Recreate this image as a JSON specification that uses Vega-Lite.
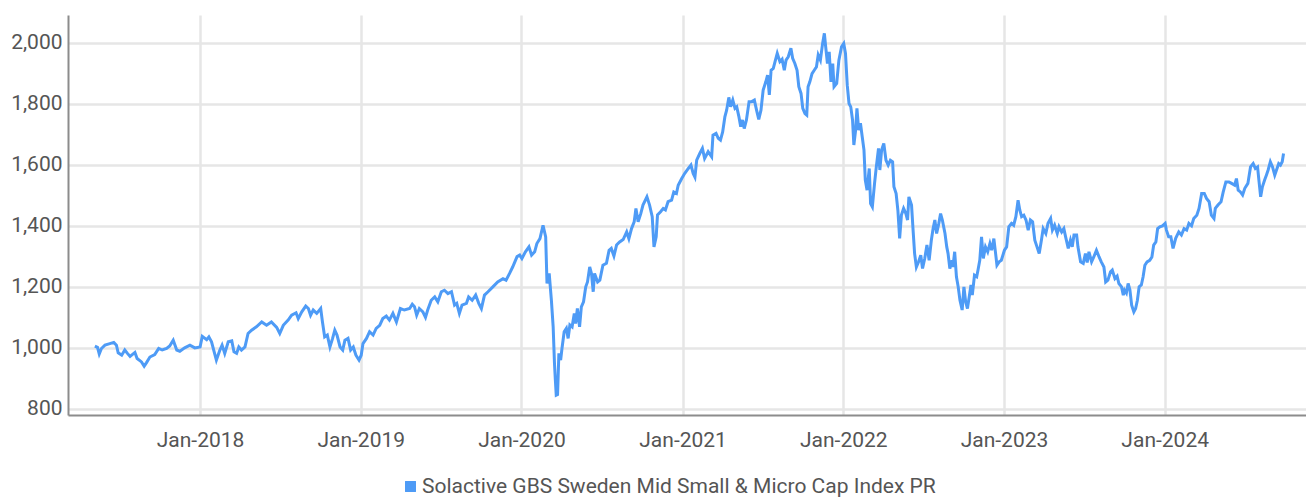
{
  "$schema": "https://vega.github.io/schema/vega-lite/v6.json",
  "width": 1238,
  "height": 400,
  "autosize": {"type": "none"},
  "padding": {"left": 68, "top": 15, "right": 0, "bottom": 83},
  "background": "#ffffff",
  "config": {
    "view": {"stroke": null},
    "font": "Roboto, sans-serif",
    "axis": {
      "labelFont": "Roboto, sans-serif",
      "labelFontSize": 21,
      "labelColor": "#555555",
      "gridColor": "#e6e6e6",
      "gridWidth": 2.5,
      "domainColor": "#8c8c8c",
      "domainWidth": 2,
      "ticks": false,
      "title": null
    },
    "legend": {
      "labelFont": "Roboto, sans-serif",
      "labelFontSize": 21,
      "labelColor": "#555555",
      "labelLimit": 0
    }
  },
  "data": {
    "values": [
      {"date": "2017-05-07", "value": 1006},
      {"date": "2017-05-13", "value": 1002},
      {"date": "2017-05-17", "value": 980},
      {"date": "2017-05-22", "value": 998},
      {"date": "2017-05-30", "value": 1009},
      {"date": "2017-06-10", "value": 1014},
      {"date": "2017-06-19", "value": 1018},
      {"date": "2017-06-25", "value": 1009},
      {"date": "2017-06-29", "value": 984},
      {"date": "2017-07-07", "value": 976},
      {"date": "2017-07-14", "value": 993},
      {"date": "2017-07-20", "value": 982},
      {"date": "2017-07-26", "value": 972},
      {"date": "2017-08-06", "value": 985},
      {"date": "2017-08-11", "value": 965},
      {"date": "2017-08-21", "value": 954},
      {"date": "2017-08-27", "value": 940},
      {"date": "2017-09-01", "value": 951},
      {"date": "2017-09-09", "value": 970},
      {"date": "2017-09-20", "value": 978},
      {"date": "2017-09-29", "value": 998},
      {"date": "2017-10-07", "value": 993},
      {"date": "2017-10-17", "value": 998},
      {"date": "2017-10-24", "value": 1006},
      {"date": "2017-11-01", "value": 1025},
      {"date": "2017-11-09", "value": 993},
      {"date": "2017-11-16", "value": 989},
      {"date": "2017-11-27", "value": 1000},
      {"date": "2017-12-09", "value": 1009},
      {"date": "2017-12-20", "value": 1000},
      {"date": "2018-01-01", "value": 1003},
      {"date": "2018-01-06", "value": 1038},
      {"date": "2018-01-16", "value": 1027},
      {"date": "2018-01-21", "value": 1036},
      {"date": "2018-01-27", "value": 1020},
      {"date": "2018-02-04", "value": 976},
      {"date": "2018-02-07", "value": 960},
      {"date": "2018-02-15", "value": 993},
      {"date": "2018-02-20", "value": 1009},
      {"date": "2018-02-26", "value": 982},
      {"date": "2018-03-06", "value": 1020},
      {"date": "2018-03-14", "value": 1023},
      {"date": "2018-03-19", "value": 987},
      {"date": "2018-03-25", "value": 982},
      {"date": "2018-03-30", "value": 1003},
      {"date": "2018-04-05", "value": 993},
      {"date": "2018-04-13", "value": 1003},
      {"date": "2018-04-20", "value": 1047},
      {"date": "2018-04-28", "value": 1058},
      {"date": "2018-05-09", "value": 1069},
      {"date": "2018-05-21", "value": 1085},
      {"date": "2018-06-01", "value": 1074},
      {"date": "2018-06-12", "value": 1085},
      {"date": "2018-06-24", "value": 1067},
      {"date": "2018-07-01", "value": 1047},
      {"date": "2018-07-09", "value": 1074},
      {"date": "2018-07-20", "value": 1091},
      {"date": "2018-07-28", "value": 1107},
      {"date": "2018-08-07", "value": 1115},
      {"date": "2018-08-12", "value": 1096},
      {"date": "2018-08-20", "value": 1118},
      {"date": "2018-08-29", "value": 1137},
      {"date": "2018-09-04", "value": 1129},
      {"date": "2018-09-09", "value": 1107},
      {"date": "2018-09-15", "value": 1124},
      {"date": "2018-09-23", "value": 1113},
      {"date": "2018-10-02", "value": 1129},
      {"date": "2018-10-06", "value": 1085},
      {"date": "2018-10-11", "value": 1036},
      {"date": "2018-10-17", "value": 1042},
      {"date": "2018-10-23", "value": 1003},
      {"date": "2018-10-29", "value": 1031},
      {"date": "2018-11-03", "value": 1058},
      {"date": "2018-11-08", "value": 1042},
      {"date": "2018-11-15", "value": 1003},
      {"date": "2018-11-21", "value": 993},
      {"date": "2018-11-26", "value": 1025},
      {"date": "2018-12-03", "value": 1031},
      {"date": "2018-12-09", "value": 993},
      {"date": "2018-12-15", "value": 1003},
      {"date": "2018-12-21", "value": 976},
      {"date": "2018-12-28", "value": 960},
      {"date": "2019-01-02", "value": 976},
      {"date": "2019-01-06", "value": 1014},
      {"date": "2019-01-14", "value": 1031},
      {"date": "2019-01-21", "value": 1053},
      {"date": "2019-01-29", "value": 1042},
      {"date": "2019-02-05", "value": 1064},
      {"date": "2019-02-13", "value": 1074},
      {"date": "2019-02-20", "value": 1096},
      {"date": "2019-02-28", "value": 1104},
      {"date": "2019-03-07", "value": 1091},
      {"date": "2019-03-15", "value": 1113},
      {"date": "2019-03-23", "value": 1085},
      {"date": "2019-04-01", "value": 1129},
      {"date": "2019-04-10", "value": 1124},
      {"date": "2019-04-22", "value": 1129},
      {"date": "2019-04-28", "value": 1143},
      {"date": "2019-05-03", "value": 1135},
      {"date": "2019-05-08", "value": 1107},
      {"date": "2019-05-14", "value": 1129},
      {"date": "2019-05-22", "value": 1118},
      {"date": "2019-05-28", "value": 1100},
      {"date": "2019-06-02", "value": 1124},
      {"date": "2019-06-10", "value": 1156},
      {"date": "2019-06-18", "value": 1167},
      {"date": "2019-06-25", "value": 1151},
      {"date": "2019-07-03", "value": 1184},
      {"date": "2019-07-10", "value": 1189},
      {"date": "2019-07-18", "value": 1178},
      {"date": "2019-07-26", "value": 1184},
      {"date": "2019-08-02", "value": 1140},
      {"date": "2019-08-07", "value": 1146},
      {"date": "2019-08-13", "value": 1113},
      {"date": "2019-08-19", "value": 1140},
      {"date": "2019-08-29", "value": 1146},
      {"date": "2019-09-03", "value": 1167},
      {"date": "2019-09-11", "value": 1156},
      {"date": "2019-09-19", "value": 1173},
      {"date": "2019-09-26", "value": 1146},
      {"date": "2019-10-02", "value": 1129},
      {"date": "2019-10-09", "value": 1173},
      {"date": "2019-10-17", "value": 1184},
      {"date": "2019-10-28", "value": 1200},
      {"date": "2019-11-08", "value": 1216},
      {"date": "2019-11-20", "value": 1227},
      {"date": "2019-11-27", "value": 1222},
      {"date": "2019-12-05", "value": 1244},
      {"date": "2019-12-12", "value": 1265},
      {"date": "2019-12-22", "value": 1299},
      {"date": "2019-12-28", "value": 1304},
      {"date": "2020-01-02", "value": 1293},
      {"date": "2020-01-10", "value": 1315},
      {"date": "2020-01-18", "value": 1331},
      {"date": "2020-01-24", "value": 1304},
      {"date": "2020-01-31", "value": 1315},
      {"date": "2020-02-05", "value": 1342},
      {"date": "2020-02-12", "value": 1358},
      {"date": "2020-02-19", "value": 1402},
      {"date": "2020-02-25", "value": 1364},
      {"date": "2020-02-28", "value": 1211},
      {"date": "2020-03-04", "value": 1244},
      {"date": "2020-03-09", "value": 1156},
      {"date": "2020-03-13", "value": 1069},
      {"date": "2020-03-16", "value": 949},
      {"date": "2020-03-18", "value": 894},
      {"date": "2020-03-20", "value": 845},
      {"date": "2020-03-23", "value": 847},
      {"date": "2020-03-26", "value": 982},
      {"date": "2020-03-30", "value": 960},
      {"date": "2020-04-02", "value": 998},
      {"date": "2020-04-07", "value": 1053},
      {"date": "2020-04-12", "value": 1064},
      {"date": "2020-04-16", "value": 1031},
      {"date": "2020-04-20", "value": 1075},
      {"date": "2020-04-25", "value": 1069},
      {"date": "2020-04-30", "value": 1113},
      {"date": "2020-05-03", "value": 1080},
      {"date": "2020-05-07", "value": 1129},
      {"date": "2020-05-12", "value": 1069},
      {"date": "2020-05-16", "value": 1134},
      {"date": "2020-05-21", "value": 1151},
      {"date": "2020-05-26", "value": 1200},
      {"date": "2020-05-30", "value": 1216},
      {"date": "2020-06-04", "value": 1265},
      {"date": "2020-06-08", "value": 1244},
      {"date": "2020-06-12", "value": 1184},
      {"date": "2020-06-15", "value": 1244},
      {"date": "2020-06-22", "value": 1216},
      {"date": "2020-06-27", "value": 1222},
      {"date": "2020-07-04", "value": 1271},
      {"date": "2020-07-12", "value": 1277},
      {"date": "2020-07-18", "value": 1320},
      {"date": "2020-07-23", "value": 1326},
      {"date": "2020-07-29", "value": 1301},
      {"date": "2020-08-04", "value": 1337},
      {"date": "2020-08-11", "value": 1347},
      {"date": "2020-08-19", "value": 1355},
      {"date": "2020-08-27", "value": 1380},
      {"date": "2020-09-01", "value": 1358},
      {"date": "2020-09-07", "value": 1391},
      {"date": "2020-09-13", "value": 1413},
      {"date": "2020-09-17", "value": 1457},
      {"date": "2020-09-22", "value": 1413},
      {"date": "2020-09-28", "value": 1440},
      {"date": "2020-10-03", "value": 1468},
      {"date": "2020-10-12", "value": 1495},
      {"date": "2020-10-18", "value": 1468},
      {"date": "2020-10-24", "value": 1430},
      {"date": "2020-10-28", "value": 1331},
      {"date": "2020-11-02", "value": 1364},
      {"date": "2020-11-05", "value": 1436},
      {"date": "2020-11-12", "value": 1446},
      {"date": "2020-11-18", "value": 1457},
      {"date": "2020-11-23", "value": 1452},
      {"date": "2020-11-29", "value": 1479},
      {"date": "2020-12-07", "value": 1484},
      {"date": "2020-12-12", "value": 1511},
      {"date": "2020-12-18", "value": 1506},
      {"date": "2020-12-22", "value": 1533},
      {"date": "2020-12-30", "value": 1555},
      {"date": "2021-01-06", "value": 1572},
      {"date": "2021-01-14", "value": 1588},
      {"date": "2021-01-20", "value": 1599},
      {"date": "2021-01-25", "value": 1572},
      {"date": "2021-01-29", "value": 1560},
      {"date": "2021-02-02", "value": 1615},
      {"date": "2021-02-09", "value": 1637},
      {"date": "2021-02-15", "value": 1654},
      {"date": "2021-02-20", "value": 1621},
      {"date": "2021-02-28", "value": 1643},
      {"date": "2021-03-08", "value": 1626},
      {"date": "2021-03-11", "value": 1697},
      {"date": "2021-03-18", "value": 1703},
      {"date": "2021-03-23", "value": 1687},
      {"date": "2021-03-28", "value": 1681},
      {"date": "2021-04-02", "value": 1708},
      {"date": "2021-04-07", "value": 1757},
      {"date": "2021-04-11", "value": 1779},
      {"date": "2021-04-16", "value": 1821},
      {"date": "2021-04-20", "value": 1790},
      {"date": "2021-04-25", "value": 1812},
      {"date": "2021-04-30", "value": 1785},
      {"date": "2021-05-04", "value": 1790},
      {"date": "2021-05-09", "value": 1757},
      {"date": "2021-05-13", "value": 1725},
      {"date": "2021-05-17", "value": 1747},
      {"date": "2021-05-21", "value": 1719},
      {"date": "2021-05-26", "value": 1747},
      {"date": "2021-06-01", "value": 1807},
      {"date": "2021-06-07", "value": 1807},
      {"date": "2021-06-13", "value": 1812},
      {"date": "2021-06-18", "value": 1779},
      {"date": "2021-06-23", "value": 1749},
      {"date": "2021-06-28", "value": 1779},
      {"date": "2021-07-03", "value": 1845},
      {"date": "2021-07-09", "value": 1872},
      {"date": "2021-07-13", "value": 1894},
      {"date": "2021-07-17", "value": 1829},
      {"date": "2021-07-21", "value": 1910},
      {"date": "2021-07-26", "value": 1916},
      {"date": "2021-07-30", "value": 1938},
      {"date": "2021-08-04", "value": 1965},
      {"date": "2021-08-10", "value": 1938},
      {"date": "2021-08-15", "value": 1946},
      {"date": "2021-08-20", "value": 1910},
      {"date": "2021-08-24", "value": 1943},
      {"date": "2021-08-29", "value": 1954},
      {"date": "2021-09-04", "value": 1982},
      {"date": "2021-09-08", "value": 1949},
      {"date": "2021-09-13", "value": 1932},
      {"date": "2021-09-18", "value": 1910},
      {"date": "2021-09-22", "value": 1856},
      {"date": "2021-09-27", "value": 1834},
      {"date": "2021-10-01", "value": 1785},
      {"date": "2021-10-06", "value": 1768},
      {"date": "2021-10-10", "value": 1763},
      {"date": "2021-10-13", "value": 1856},
      {"date": "2021-10-17", "value": 1872},
      {"date": "2021-10-22", "value": 1899},
      {"date": "2021-10-27", "value": 1910},
      {"date": "2021-11-01", "value": 1921},
      {"date": "2021-11-05", "value": 1960},
      {"date": "2021-11-10", "value": 1943},
      {"date": "2021-11-15", "value": 1998},
      {"date": "2021-11-19", "value": 2031},
      {"date": "2021-11-22", "value": 1987},
      {"date": "2021-11-26", "value": 1932},
      {"date": "2021-11-30", "value": 1970},
      {"date": "2021-12-04", "value": 1872},
      {"date": "2021-12-08", "value": 1932},
      {"date": "2021-12-11", "value": 1856},
      {"date": "2021-12-17", "value": 1867},
      {"date": "2021-12-22", "value": 1943},
      {"date": "2021-12-28", "value": 1987},
      {"date": "2022-01-02", "value": 1998},
      {"date": "2022-01-06", "value": 1965},
      {"date": "2022-01-10", "value": 1861},
      {"date": "2022-01-14", "value": 1801},
      {"date": "2022-01-18", "value": 1790},
      {"date": "2022-01-22", "value": 1747},
      {"date": "2022-01-25", "value": 1665},
      {"date": "2022-01-29", "value": 1714},
      {"date": "2022-02-01", "value": 1785},
      {"date": "2022-02-05", "value": 1714},
      {"date": "2022-02-09", "value": 1736},
      {"date": "2022-02-13", "value": 1692},
      {"date": "2022-02-17", "value": 1648},
      {"date": "2022-02-20", "value": 1550},
      {"date": "2022-02-24", "value": 1517},
      {"date": "2022-03-01", "value": 1588},
      {"date": "2022-03-04", "value": 1473},
      {"date": "2022-03-08", "value": 1462},
      {"date": "2022-03-13", "value": 1539},
      {"date": "2022-03-17", "value": 1593},
      {"date": "2022-03-22", "value": 1654},
      {"date": "2022-03-25", "value": 1583},
      {"date": "2022-03-29", "value": 1648},
      {"date": "2022-04-03", "value": 1670},
      {"date": "2022-04-08", "value": 1615},
      {"date": "2022-04-13", "value": 1599},
      {"date": "2022-04-18", "value": 1615},
      {"date": "2022-04-23", "value": 1610},
      {"date": "2022-04-26", "value": 1528},
      {"date": "2022-05-01", "value": 1506},
      {"date": "2022-05-05", "value": 1451},
      {"date": "2022-05-09", "value": 1359},
      {"date": "2022-05-13", "value": 1435},
      {"date": "2022-05-18", "value": 1457},
      {"date": "2022-05-23", "value": 1441},
      {"date": "2022-05-27", "value": 1419},
      {"date": "2022-05-30", "value": 1495},
      {"date": "2022-06-05", "value": 1468},
      {"date": "2022-06-09", "value": 1375},
      {"date": "2022-06-12", "value": 1309},
      {"date": "2022-06-16", "value": 1265},
      {"date": "2022-06-21", "value": 1282},
      {"date": "2022-06-26", "value": 1304},
      {"date": "2022-06-30", "value": 1260},
      {"date": "2022-07-05", "value": 1293},
      {"date": "2022-07-10", "value": 1337},
      {"date": "2022-07-15", "value": 1287},
      {"date": "2022-07-20", "value": 1353},
      {"date": "2022-07-24", "value": 1391},
      {"date": "2022-07-28", "value": 1419},
      {"date": "2022-08-01", "value": 1375},
      {"date": "2022-08-06", "value": 1408},
      {"date": "2022-08-10", "value": 1440},
      {"date": "2022-08-14", "value": 1419},
      {"date": "2022-08-20", "value": 1375},
      {"date": "2022-08-24", "value": 1331},
      {"date": "2022-08-27", "value": 1309},
      {"date": "2022-08-31", "value": 1260},
      {"date": "2022-09-05", "value": 1287},
      {"date": "2022-09-07", "value": 1265},
      {"date": "2022-09-11", "value": 1315},
      {"date": "2022-09-15", "value": 1233},
      {"date": "2022-09-19", "value": 1200},
      {"date": "2022-09-23", "value": 1156},
      {"date": "2022-09-28", "value": 1124},
      {"date": "2022-10-02", "value": 1200},
      {"date": "2022-10-06", "value": 1151},
      {"date": "2022-10-10", "value": 1129},
      {"date": "2022-10-14", "value": 1167},
      {"date": "2022-10-18", "value": 1206},
      {"date": "2022-10-21", "value": 1173},
      {"date": "2022-10-26", "value": 1238},
      {"date": "2022-10-31", "value": 1233},
      {"date": "2022-11-03", "value": 1255},
      {"date": "2022-11-07", "value": 1287},
      {"date": "2022-11-11", "value": 1364},
      {"date": "2022-11-15", "value": 1293},
      {"date": "2022-11-20", "value": 1331},
      {"date": "2022-11-25", "value": 1315},
      {"date": "2022-11-30", "value": 1342},
      {"date": "2022-12-04", "value": 1320},
      {"date": "2022-12-09", "value": 1358},
      {"date": "2022-12-13", "value": 1309},
      {"date": "2022-12-16", "value": 1271},
      {"date": "2022-12-21", "value": 1282},
      {"date": "2022-12-26", "value": 1287},
      {"date": "2023-01-02", "value": 1320},
      {"date": "2023-01-07", "value": 1331},
      {"date": "2023-01-12", "value": 1397},
      {"date": "2023-01-18", "value": 1408},
      {"date": "2023-01-23", "value": 1402},
      {"date": "2023-01-28", "value": 1430},
      {"date": "2023-02-02", "value": 1484},
      {"date": "2023-02-06", "value": 1451},
      {"date": "2023-02-10", "value": 1430},
      {"date": "2023-02-15", "value": 1435},
      {"date": "2023-02-20", "value": 1419},
      {"date": "2023-02-25", "value": 1386},
      {"date": "2023-03-02", "value": 1419},
      {"date": "2023-03-07", "value": 1413},
      {"date": "2023-03-12", "value": 1353},
      {"date": "2023-03-17", "value": 1331},
      {"date": "2023-03-22", "value": 1309},
      {"date": "2023-03-27", "value": 1353},
      {"date": "2023-03-31", "value": 1391},
      {"date": "2023-04-06", "value": 1375},
      {"date": "2023-04-11", "value": 1408},
      {"date": "2023-04-17", "value": 1424},
      {"date": "2023-04-21", "value": 1386},
      {"date": "2023-04-26", "value": 1402},
      {"date": "2023-05-02", "value": 1375},
      {"date": "2023-05-06", "value": 1397},
      {"date": "2023-05-12", "value": 1380},
      {"date": "2023-05-17", "value": 1391},
      {"date": "2023-05-21", "value": 1364},
      {"date": "2023-05-27", "value": 1326},
      {"date": "2023-06-01", "value": 1353},
      {"date": "2023-06-05", "value": 1331},
      {"date": "2023-06-09", "value": 1370},
      {"date": "2023-06-15", "value": 1370},
      {"date": "2023-06-18", "value": 1331},
      {"date": "2023-06-24", "value": 1282},
      {"date": "2023-06-30", "value": 1277},
      {"date": "2023-07-05", "value": 1309},
      {"date": "2023-07-09", "value": 1280},
      {"date": "2023-07-13", "value": 1315},
      {"date": "2023-07-19", "value": 1282},
      {"date": "2023-07-24", "value": 1298},
      {"date": "2023-07-30", "value": 1320},
      {"date": "2023-08-05", "value": 1298},
      {"date": "2023-08-10", "value": 1282},
      {"date": "2023-08-16", "value": 1265},
      {"date": "2023-08-20", "value": 1216},
      {"date": "2023-08-25", "value": 1222},
      {"date": "2023-08-31", "value": 1249},
      {"date": "2023-09-04", "value": 1255},
      {"date": "2023-09-10", "value": 1227},
      {"date": "2023-09-15", "value": 1235},
      {"date": "2023-09-19", "value": 1211},
      {"date": "2023-09-25", "value": 1200},
      {"date": "2023-09-29", "value": 1173},
      {"date": "2023-10-02", "value": 1189},
      {"date": "2023-10-06", "value": 1180},
      {"date": "2023-10-10", "value": 1211},
      {"date": "2023-10-14", "value": 1190},
      {"date": "2023-10-18", "value": 1140},
      {"date": "2023-10-23", "value": 1118},
      {"date": "2023-10-27", "value": 1129},
      {"date": "2023-10-31", "value": 1156},
      {"date": "2023-11-04", "value": 1200},
      {"date": "2023-11-09", "value": 1206},
      {"date": "2023-11-13", "value": 1233},
      {"date": "2023-11-17", "value": 1271},
      {"date": "2023-11-22", "value": 1282},
      {"date": "2023-11-28", "value": 1287},
      {"date": "2023-12-03", "value": 1298},
      {"date": "2023-12-07", "value": 1337},
      {"date": "2023-12-12", "value": 1347},
      {"date": "2023-12-16", "value": 1391},
      {"date": "2023-12-21", "value": 1397},
      {"date": "2023-12-27", "value": 1400},
      {"date": "2024-01-02", "value": 1408},
      {"date": "2024-01-05", "value": 1386},
      {"date": "2024-01-10", "value": 1364},
      {"date": "2024-01-15", "value": 1364},
      {"date": "2024-01-20", "value": 1326},
      {"date": "2024-01-26", "value": 1359},
      {"date": "2024-02-02", "value": 1380},
      {"date": "2024-02-08", "value": 1370},
      {"date": "2024-02-14", "value": 1391},
      {"date": "2024-02-20", "value": 1386},
      {"date": "2024-02-25", "value": 1408},
      {"date": "2024-03-02", "value": 1400},
      {"date": "2024-03-07", "value": 1424},
      {"date": "2024-03-14", "value": 1435},
      {"date": "2024-03-19", "value": 1457},
      {"date": "2024-03-25", "value": 1506},
      {"date": "2024-03-31", "value": 1506},
      {"date": "2024-04-05", "value": 1490},
      {"date": "2024-04-11", "value": 1479},
      {"date": "2024-04-16", "value": 1435},
      {"date": "2024-04-22", "value": 1424},
      {"date": "2024-04-25", "value": 1457},
      {"date": "2024-05-01", "value": 1468},
      {"date": "2024-05-08", "value": 1479},
      {"date": "2024-05-13", "value": 1511},
      {"date": "2024-05-19", "value": 1544},
      {"date": "2024-05-26", "value": 1544},
      {"date": "2024-06-01", "value": 1539},
      {"date": "2024-06-08", "value": 1533},
      {"date": "2024-06-12", "value": 1555},
      {"date": "2024-06-16", "value": 1517},
      {"date": "2024-06-21", "value": 1511},
      {"date": "2024-06-26", "value": 1501},
      {"date": "2024-07-01", "value": 1523},
      {"date": "2024-07-08", "value": 1539},
      {"date": "2024-07-14", "value": 1593},
      {"date": "2024-07-20", "value": 1604},
      {"date": "2024-07-25", "value": 1588},
      {"date": "2024-07-30", "value": 1593},
      {"date": "2024-08-02", "value": 1550},
      {"date": "2024-08-06", "value": 1495},
      {"date": "2024-08-10", "value": 1528},
      {"date": "2024-08-15", "value": 1550},
      {"date": "2024-08-19", "value": 1566},
      {"date": "2024-08-23", "value": 1583},
      {"date": "2024-08-28", "value": 1610},
      {"date": "2024-09-02", "value": 1593},
      {"date": "2024-09-07", "value": 1566},
      {"date": "2024-09-11", "value": 1583},
      {"date": "2024-09-16", "value": 1604},
      {"date": "2024-09-20", "value": 1599},
      {"date": "2024-09-24", "value": 1610},
      {"date": "2024-09-27", "value": 1637}
    ]
  },
  "mark": {"type": "line", "strokeWidth": 3, "interpolate": "linear", "clip": true},
  "encoding": {
    "x": {
      "field": "date",
      "type": "temporal",
      "scale": {"domain": ["2017-03-07", "2024-11-17"]},
      "axis": {
        "values": ["2018-01-01", "2019-01-01", "2020-01-01", "2021-01-01", "2022-01-01", "2023-01-01", "2024-01-01"],
        "format": "%b-%Y",
        "labelPadding": 14,
        "labelAlign": "center",
        "grid": true,
        "domain": true
      }
    },
    "y": {
      "field": "value",
      "type": "quantitative",
      "scale": {"domain": [780, 2091], "nice": false, "zero": false},
      "axis": {
        "values": [800, 1000, 1200, 1400, 1600, 1800, 2000],
        "format": ",.0f",
        "labelPadding": 6,
        "grid": true
      }
    },
    "color": {
      "datum": "Solactive GBS Sweden Mid Small & Micro Cap Index PR",
      "type": "nominal",
      "scale": {"range": ["#4e9bf6"]},
      "legend": {
        "title": null,
        "orient": "none",
        "legendX": 332,
        "legendY": 461,
        "symbolType": "square",
        "symbolSize": 120,
        "symbolFillColor": "#4e9bf6",
        "symbolStrokeColor": "#4e9bf6",
        "symbolStrokeWidth": 0,
        "symbolOpacity": 1,
        "labelOffset": 1
      }
    }
  }
}
